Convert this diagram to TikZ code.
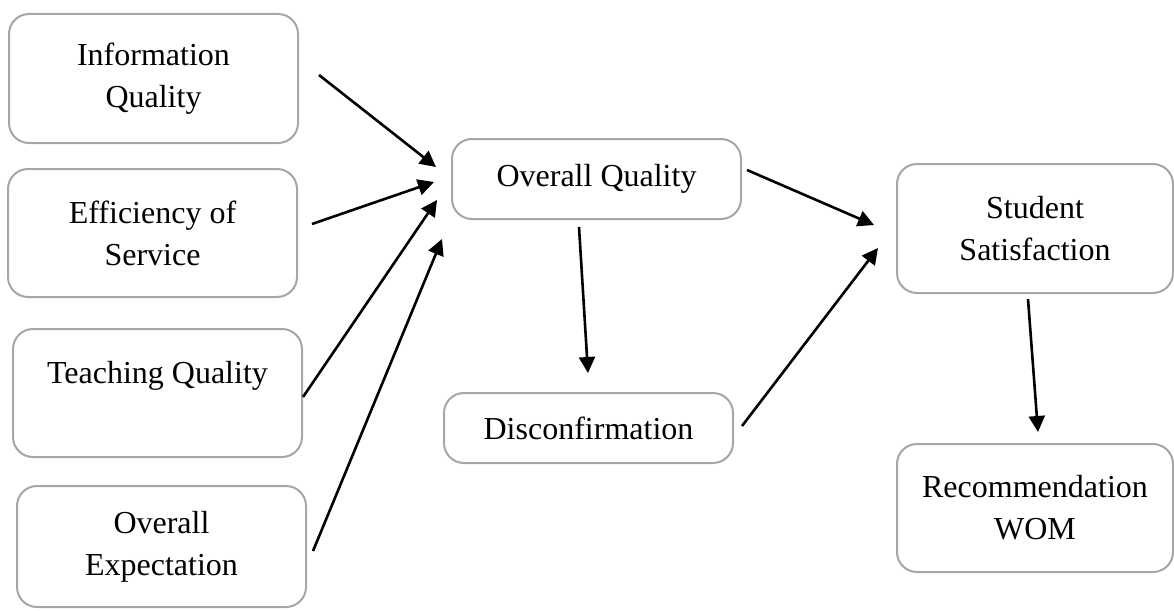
\documentclass[tikz,border=0pt]{standalone}
\usepackage{fontspec}
\setmainfont{Liberation Serif}
\usetikzlibrary{arrows.meta,calc}
\tikzset{
  box/.style={draw=boxgray, line width=2pt, rounded corners=20pt, inner sep=0pt,
    align=center, font=\fontsize{32}{42}\selectfont, text=black},
  arr/.style={draw=black, line width=2.6pt, -{Triangle[length=16pt,width=16pt]}}
}
\definecolor{boxgray}{HTML}{A6A6A6}
\begin{document}
\begin{tikzpicture}[x=1pt,y=-1pt]
\useasboundingbox (0,0) rectangle (1174,610);
\node[box, minimum width=289pt, minimum height=129pt] (iq) at (153.5,78.5) {Information\\Quality};
\node[box, minimum width=289pt, minimum height=128pt] (es) at (152.5,233) {Efficiency of\\Service};
\node[box, minimum width=289pt, minimum height=128pt] (tq) at (157.5,393) {Teaching Quality\\\mbox{}};
\node[box, minimum width=289pt, minimum height=121pt] (oe) at (161.5,546.5) {Overall\\Expectation};
\node[box, minimum width=289pt, minimum height=80pt] (oq) at (596.5,179) {Overall Quality};
\node[box, minimum width=289pt, minimum height=70pt] (dc) at (588.5,428) {Disconfirmation};
\node[box, minimum width=276pt, minimum height=129pt] (ss) at (1035,228.5) {Student\\Satisfaction};
\node[box, minimum width=276pt, minimum height=128pt] (wom) at (1035,508) {Recommendation\\WOM};

\draw[arr] ($(iq.east)+(20,-3.5)$) -- ($(oq.west)+(-15,-12)$);
\draw[arr] ($(es.east)+(14,-9)$) -- ($(oq.west)+(-17,3)$);
\draw[arr] ($(tq.east)+(0,4)$) -- ($(oq.west)+(-14,21)$);
\draw[arr] ($(oe.east)+(6,4.5)$) -- ($(oq.west)+(-9,60)$);
\draw[arr] ($(oq.south)+(-17.5,7)$) -- ($(dc.north)+(-0.5,-19)$);
\draw[arr] ($(oq.east)+(5,-9)$) -- ($(ss.west)+(-22,-3.5)$);
\draw[arr] ($(dc.east)+(8,-2)$) -- ($(ss.west)+(-18,19.5)$);
\draw[arr] ($(ss.south)+(-7,5)$) -- ($(wom.north)+(3,-11)$);
\end{tikzpicture}
\end{document}
